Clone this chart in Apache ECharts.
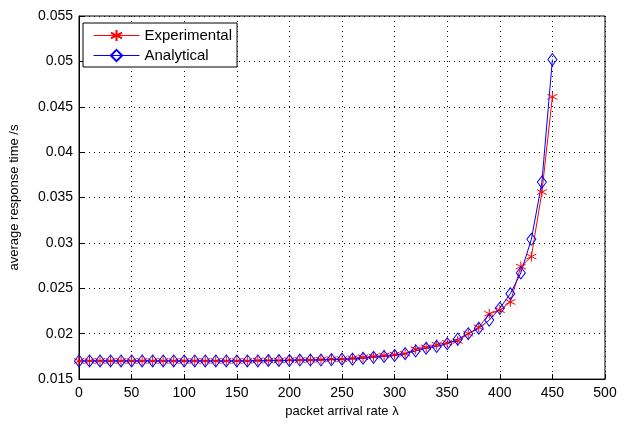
<!DOCTYPE html>
<html><head><meta charset="utf-8">
<script src="https://cdn.jsdelivr.net/npm/echarts@6/dist/echarts.min.js"></script>
<style>html,body{margin:0;padding:0;background:#fff}#c{width:624px;height:423px}</style>
</head><body><div id="c"></div>
<script>
var lambdas = [0,10,20,30,40,50,60,70,80,90,100,110,120,130,140,150,160,170,180,190,200,210,220,230,240,250,260,270,280,290,300,310,320,330,340,350,360,370,380,390,400,410,420,430,440,450];
var experimental = [0.0170,0.0170,0.0170,0.0170,0.0170,0.0170,0.0170,0.0170,0.0170,0.0170,0.0170,0.0170,0.0170,0.0170,0.0170,0.0170,0.0170,0.01705,0.01705,0.01705,0.0171,0.0171,0.0171,0.01715,0.0172,0.0172,0.0173,0.0174,0.0175,0.0176,0.0177,0.0178,0.0183,0.0185,0.0188,0.0190,0.0192,0.0200,0.0207,0.0222,0.0226,0.0235,0.0274,0.0285,0.0356,0.0461];
var analytical = [0.0170,0.0170,0.0170,0.0170,0.0170,0.0170,0.0170,0.0170,0.0170,0.0170,0.0170,0.0170,0.0170,0.0170,0.0170,0.0170,0.0170,0.0170,0.01705,0.01705,0.01705,0.0171,0.0171,0.0171,0.01715,0.0172,0.0172,0.0173,0.0174,0.0175,0.0176,0.0178,0.0181,0.0184,0.0186,0.0189,0.0194,0.0200,0.0206,0.0215,0.0228,0.0244,0.0267,0.0304,0.0367,0.0502];
var xTicks = [0,50,100,150,200,250,300,350,400,450,500];
var yTicks = [0.015,0.02,0.025,0.03,0.035,0.04,0.045,0.05,0.055];

function pairs(xs, ys){ return xs.map(function(x,i){ return [x, ys[i]]; }); }
var asterisk = 'path://M0,-5L0,5M-4.33,-2.5L4.33,2.5M-4.33,2.5L4.33,-2.5';
var font = 'Liberation Sans, Arial, sans-serif';
var chart = echarts.init(document.getElementById('c'), null, {renderer:'canvas'});
chart.setOption({
  animation:false,
  backgroundColor:'#fff',
  grid:{left:77,right:19,top:16,bottom:39,show:true,borderColor:'#000',borderWidth:1,backgroundColor:'transparent'},
  legend:{
    orient:'vertical', left:83, top:23, borderColor:'#000', borderWidth:1, backgroundColor:'#fff',
    padding:[5,5,4,10], itemGap:5, itemWidth:46, itemHeight:14,
    lineStyle:{width:1},
    textStyle:{fontFamily:font,fontSize:15,color:'#000'},
    data:['Experimental','Analytical']
  },
  xAxis:{
    type:'value', min:0, max:500, interval:50,
    name:'packet arrival rate λ', nameLocation:'middle', nameGap:24,
    nameTextStyle:{fontFamily:font,fontSize:13,color:'#000'},
    axisLine:{onZero:false,lineStyle:{color:'#000',width:1}},
    axisTick:{inside:true,length:5,lineStyle:{color:'#000'}},
    axisLabel:{fontFamily:font,fontSize:14,color:'#000',margin:7,formatter:function(v){return xTicks.indexOf(v)>=0?String(v):'';}},
    splitLine:{show:true,lineStyle:{color:'#000',type:[1,4],width:1}}
  },
  yAxis:{
    type:'value', min:0.015, max:0.055, interval:0.005,
    name:'average response time /s', nameLocation:'middle', nameGap:58,
    nameTextStyle:{fontFamily:font,fontSize:13,color:'#000'},
    axisLine:{onZero:false,lineStyle:{color:'#000',width:1}},
    axisTick:{inside:true,length:5,lineStyle:{color:'#000'}},
    axisLabel:{fontFamily:font,fontSize:14,color:'#000',margin:6,formatter:function(v){
      return String(Math.round(v*1000)/1000);}},
    splitLine:{show:true,lineStyle:{color:'#000',type:[1,4],width:1}}
  },
  series:[
    {name:'Experimental', type:'line', data:pairs(lambdas,experimental),
     symbol:asterisk, symbolSize:[10,10], showAllSymbol:true,
     lineStyle:{color:'#ff0000',width:1}, itemStyle:{color:'rgba(0,0,0,0)',borderColor:'#ff0000',borderWidth:1}},
    {name:'Analytical', type:'line', data:pairs(lambdas,analytical),
     symbol:'diamond', symbolSize:[9,12], showAllSymbol:true,
     lineStyle:{color:'#0000ff',width:1}, itemStyle:{color:'rgba(0,0,0,0)',borderColor:'#0000ff',borderWidth:1}}
  ]
});
</script></body></html>
